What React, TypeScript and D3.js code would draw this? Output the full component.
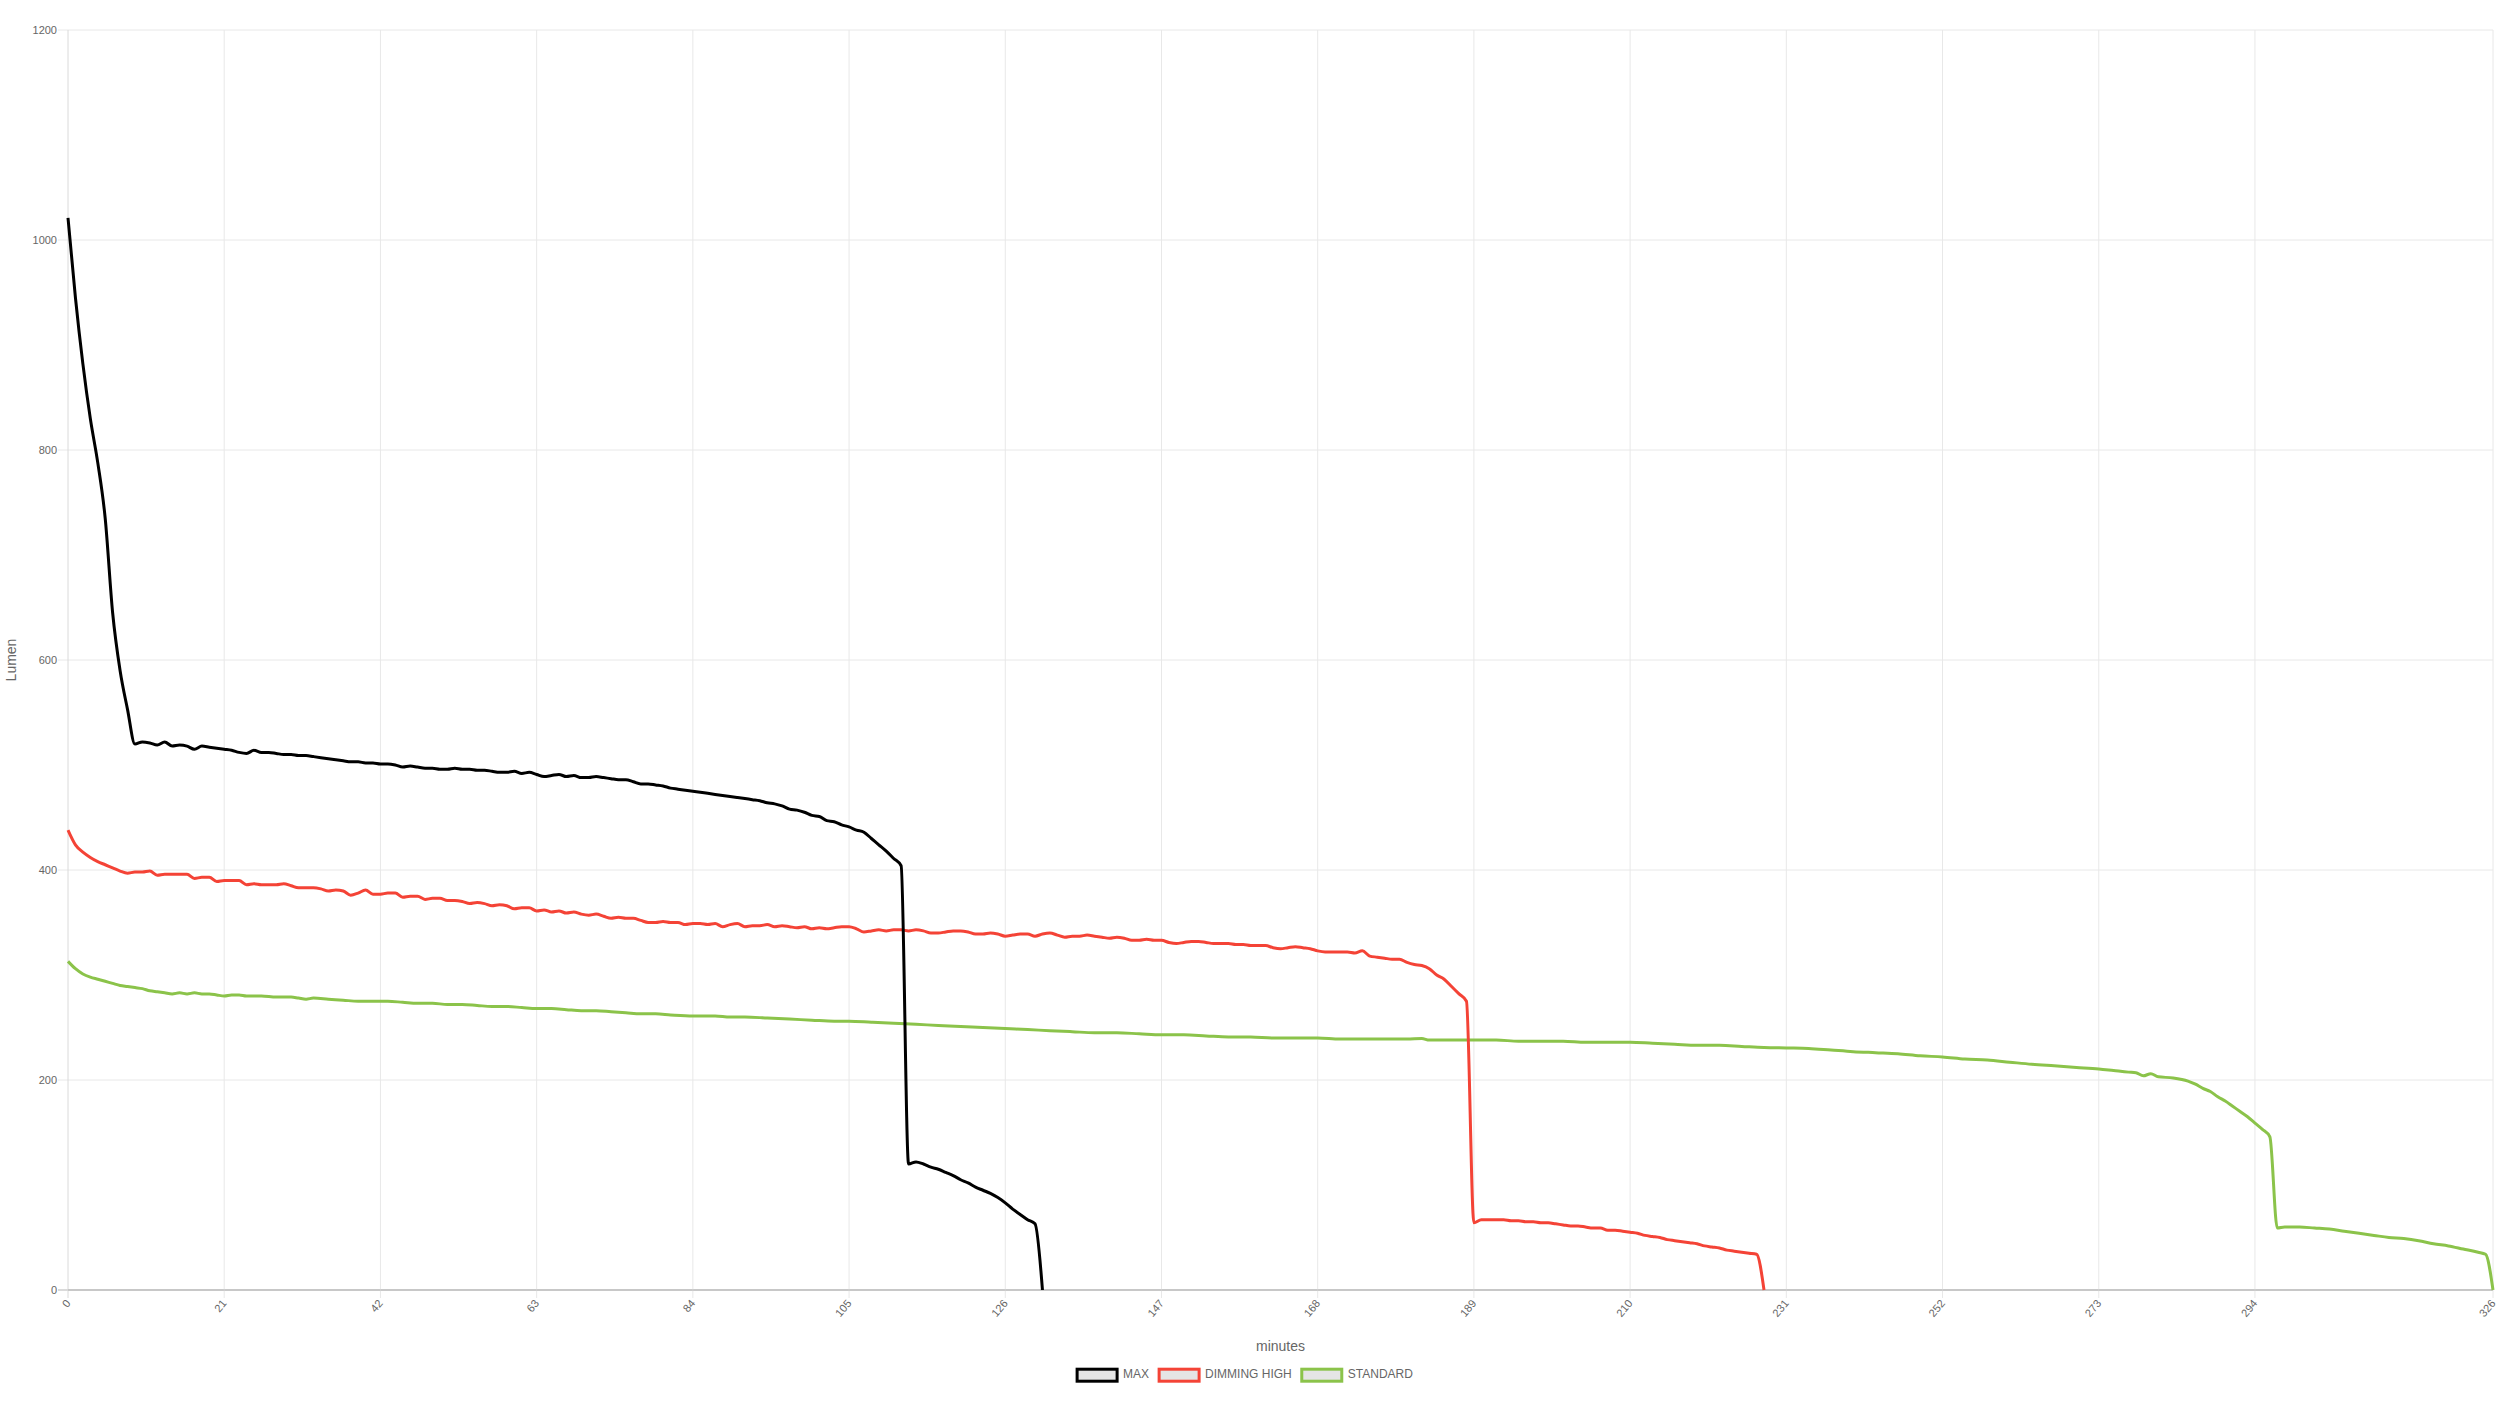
import React, { useMemo } from 'react';
import * as d3 from 'd3';

// ---------- data ----------
const X_TICKS = [0, 21, 42, 63, 84, 105, 126, 147, 168, 189, 210, 231, 252, 273, 294, 326];
const Y_TICKS = [0, 200, 400, 600, 800, 1000, 1200];
const X_TITLE = 'minutes';
const Y_TITLE = 'Lumen';
const SERIES_NAMES = ['MAX', 'DIMMING HIGH', 'STANDARD'];
const SERIES_COLORS = ['#000000', '#f44336', '#8bc34a'];

// [minute, lumen]
const MAX_DATA: [number, number][] = [
  [0, 1021], [1, 945], [2, 882], [3, 830], [4, 788], [5, 735], [6, 645], [7, 590], [8, 553], [9, 520],
  [10, 522], [11, 521], [12, 519], [13, 522], [14, 518], [15, 519], [16, 518], [17, 515], [18, 518], [19, 517],
  [20, 516], [21, 515], [22, 514], [23, 512], [24, 511], [25, 514], [26, 512], [27, 512], [28, 511], [29, 510],
  [30, 510], [31, 509], [32, 509], [33, 508], [34, 507], [35, 506], [36, 505], [37, 504], [38, 503], [39, 503],
  [40, 502], [41, 502], [42, 501], [43, 501], [44, 500], [45, 498], [46, 499], [47, 498], [48, 497], [49, 497],
  [50, 496], [51, 496], [52, 497], [53, 496], [54, 496], [55, 495], [56, 495], [57, 494], [58, 493], [59, 493],
  [60, 494], [61, 492], [62, 493], [63, 491], [64, 489], [65, 490], [66, 491], [67, 489], [68, 490], [69, 488],
  [70, 488], [71, 489], [72, 488], [73, 487], [74, 486], [75, 486], [76, 484], [77, 482], [78, 482], [79, 481],
  [80, 480], [81, 478], [82, 477], [83, 476], [84, 475], [85, 474], [86, 473], [87, 472], [88, 471], [89, 470],
  [90, 469], [91, 468], [92, 467], [93, 466], [94, 464], [95, 463], [96, 461], [97, 458], [98, 457], [99, 455],
  [100, 452], [101, 451], [102, 447], [103, 446], [104, 443], [105, 441], [106, 438], [107, 436], [108, 430], [109, 424],
  [110, 418], [111, 411], [112, 404], [113, 120], [114, 122], [115, 120], [116, 117], [117, 115], [118, 112], [119, 109],
  [120, 105], [121, 102], [122, 98], [123, 95], [124, 92], [125, 88], [126, 83], [127, 77], [128, 72], [129, 67],
  [130, 63], [131, 0],
];

const DIMMING_HIGH_DATA: [number, number][] = [
  [0, 438], [1, 424], [2, 417], [3, 412], [4, 408], [5, 405], [6, 402], [7, 399], [8, 397], [9, 398],
  [10, 398], [11, 399], [12, 395], [13, 396], [14, 396], [15, 396], [16, 396], [17, 392], [18, 393], [19, 393],
  [20, 389], [21, 390], [22, 390], [23, 390], [24, 386], [25, 387], [26, 386], [27, 386], [28, 386], [29, 387],
  [30, 385], [31, 383], [32, 383], [33, 383], [34, 382], [35, 380], [36, 381], [37, 380], [38, 376], [39, 378],
  [40, 381], [41, 377], [42, 377], [43, 378], [44, 378], [45, 374], [46, 375], [47, 375], [48, 372], [49, 373],
  [50, 373], [51, 371], [52, 371], [53, 370], [54, 368], [55, 369], [56, 368], [57, 366], [58, 367], [59, 366],
  [60, 363], [61, 364], [62, 364], [63, 361], [64, 362], [65, 360], [66, 361], [67, 359], [68, 360], [69, 358],
  [70, 357], [71, 358], [72, 356], [73, 354], [74, 355], [75, 354], [76, 354], [77, 352], [78, 350], [79, 350],
  [80, 351], [81, 350], [82, 350], [83, 348], [84, 349], [85, 349], [86, 348], [87, 349], [88, 346], [89, 348],
  [90, 349], [91, 346], [92, 347], [93, 347], [94, 348], [95, 346], [96, 347], [97, 346], [98, 345], [99, 346],
  [100, 344], [101, 345], [102, 344], [103, 345], [104, 346], [105, 346], [106, 344], [107, 341], [108, 342], [109, 343],
  [110, 342], [111, 343], [112, 343], [113, 342], [114, 343], [115, 342], [116, 340], [117, 340], [118, 341], [119, 342],
  [120, 342], [121, 341], [122, 339], [123, 339], [124, 340], [125, 339], [126, 337], [127, 338], [128, 339], [129, 339],
  [130, 337], [131, 339], [132, 340], [133, 338], [134, 336], [135, 337], [136, 337], [137, 338], [138, 337], [139, 336],
  [140, 335], [141, 336], [142, 335], [143, 333], [144, 333], [145, 334], [146, 333], [147, 333], [148, 331], [149, 330],
  [150, 331], [151, 332], [152, 332], [153, 331], [154, 330], [155, 330], [156, 330], [157, 329], [158, 329], [159, 328],
  [160, 328], [161, 328], [162, 326], [163, 325], [164, 326], [165, 327], [166, 326], [167, 325], [168, 323], [169, 322],
  [170, 322], [171, 322], [172, 322], [173, 321], [174, 323], [175, 318], [176, 317], [177, 316], [178, 315], [179, 315],
  [180, 312], [181, 310], [182, 309], [183, 306], [184, 300], [185, 296], [186, 289], [187, 282], [188, 275], [189, 64],
  [190, 67], [191, 67], [192, 67], [193, 67], [194, 66], [195, 66], [196, 65], [197, 65], [198, 64], [199, 64],
  [200, 63], [201, 62], [202, 61], [203, 61], [204, 60], [205, 59], [206, 59], [207, 57], [208, 57], [209, 56],
  [210, 55], [211, 54], [212, 52], [213, 51], [214, 50], [215, 48], [216, 47], [217, 46], [218, 45], [219, 44],
  [220, 42], [221, 41], [222, 40], [223, 38], [224, 37], [225, 36], [226, 35], [227, 34], [228, 0],
];

const STANDARD_DATA: [number, number][] = [
  [0, 313], [1, 306], [2, 301], [3, 298], [4, 296], [5, 294], [6, 292], [7, 290], [8, 289], [9, 288],
  [10, 287], [11, 285], [12, 284], [13, 283], [14, 282], [15, 283], [16, 282], [17, 283], [18, 282], [19, 282],
  [20, 281], [21, 280], [22, 281], [23, 281], [24, 280], [26, 280], [28, 279], [30, 279], [31, 278], [32, 277],
  [33, 278], [35, 277], [37, 276], [39, 275], [41, 275], [43, 275], [45, 274], [47, 273], [49, 273], [51, 272],
  [53, 272], [55, 271], [57, 270], [59, 270], [61, 269], [63, 268], [65, 268], [67, 267], [69, 266], [71, 266],
  [73, 265], [75, 264], [77, 263], [79, 263], [81, 262], [84, 261], [87, 261], [89, 260], [91, 260], [94, 259],
  [97, 258], [100, 257], [103, 256], [105, 256], [108, 255], [111, 254], [114, 253], [117, 252], [120, 251], [123, 250],
  [126, 249], [129, 248], [132, 247], [135, 246], [138, 245], [141, 245], [144, 244], [147, 243], [150, 243], [153, 242],
  [156, 241], [159, 241], [162, 240], [165, 240], [168, 240], [171, 239], [174, 239], [177, 239], [180, 239], [182, 239.5],
  [183, 238], [186, 238], [189, 238], [192, 238], [195, 237], [198, 237], [201, 237], [204, 236], [207, 236], [210, 236],
  [213, 235], [216, 234], [219, 233], [222, 233], [225, 232], [228, 231], [231, 230.5], [234, 230], [237, 228.5], [240, 227],
  [243, 226], [246, 225], [249, 223], [252, 222], [255, 220], [258, 219], [261, 217], [264, 215], [267, 213.5], [270, 212],
  [273, 210.5], [275, 209], [277, 207.5], [278, 207], [279, 204], [280, 206], [281, 203], [283, 202], [285, 199], [286, 196],
  [287, 192], [288, 189], [289, 184], [290, 180], [291, 175], [292, 170], [293, 165], [294, 159], [295, 153], [296, 146],
  [297, 59], [298, 60], [300, 60], [302, 59], [304, 58], [306, 56], [308, 54], [310, 52], [312, 50], [314, 49],
  [316, 47], [318, 44], [320, 42], [322, 39], [324, 36], [325, 34], [326, 0],
];

const SERIES_DATA = [MAX_DATA, DIMMING_HIGH_DATA, STANDARD_DATA];

// ---------- layout ----------
const WIDTH = 2500;
const HEIGHT = 1406;
const PLOT = { left: 68, right: 2493, top: 30, bottom: 1290 };
const FONT = "'Liberation Sans', Arial, Helvetica, sans-serif";
const TEXT_COLOR = '#666666';
const GRID_COLOR = '#e8e8e8';
const TICK_FONT = 11;
const LEGEND_FONT = 12;
const TITLE_FONT = 14;

function measure(text: string, size: number): number {
  const ctx = document.createElement('canvas').getContext('2d');
  if (!ctx) return text.length * size * 0.6;
  ctx.font = `${size}px ${FONT}`;
  return ctx.measureText(text).width;
}

export default function App() {
  const x = d3.scaleLinear().domain([0, d3.max(X_TICKS) as number]).range([PLOT.left, PLOT.right]);
  const y = d3.scaleLinear().domain([0, d3.max(Y_TICKS) as number]).range([PLOT.bottom, PLOT.top]);
  const line = d3
    .line<[number, number]>()
    .x((d) => x(d[0]))
    .y((d) => y(d[1]))
    .curve(d3.curveMonotoneX);

  const legend = useMemo(() => {
    const boxW = 40;
    const pad = 10;
    const items = SERIES_NAMES.map((name) => ({ name, tw: measure(name, LEGEND_FONT) }));
    const total = items.reduce((s, it) => s + boxW + LEGEND_FONT / 2 + it.tw + pad, 0);
    let cx = (WIDTH - total) / 2;
    return items.map((it, i) => {
      const r = { ...it, x: cx, color: SERIES_COLORS[i] };
      cx += boxW + LEGEND_FONT / 2 + it.tw + pad;
      return r;
    });
  }, []);

  const legendY = 1369.2;

  return (
    <svg
      width={WIDTH}
      height={HEIGHT}
      style={{ position: 'absolute', left: 0, top: 0, background: '#ffffff' }}
      fontFamily={FONT}
    >
      {/* horizontal grid + y ticks */}
      {Y_TICKS.map((t) => (
        <g key={`y${t}`}>
          <line
            x1={PLOT.left - 10}
            x2={PLOT.right}
            y1={y(t)}
            y2={y(t)}
            stroke={t === 0 ? '#b5b5b5' : GRID_COLOR}
            strokeWidth={1}
          />
          <text
            x={PLOT.left - 11}
            y={y(t)}
            textAnchor="end"
            dominantBaseline="central"
            fontSize={TICK_FONT}
            fill={TEXT_COLOR}
          >
            {t}
          </text>
        </g>
      ))}
      {/* vertical grid + x ticks */}
      {X_TICKS.map((t, i) => (
        <g key={`x${t}`}>
          <line
            x1={x(t)}
            x2={x(t)}
            y1={PLOT.top}
            y2={PLOT.bottom + 8}
            stroke={i === 0 ? '#dadada' : GRID_COLOR}
            strokeWidth={1}
          />
          <text
            transform={`translate(${x(t)},${PLOT.bottom + 11}) rotate(-50)`}
            textAnchor="end"
            dominantBaseline="central"
            fontSize={TICK_FONT}
            fill={TEXT_COLOR}
          >
            {t}
          </text>
        </g>
      ))}
      {/* redraw zero line on top of vertical grid */}
      <line x1={PLOT.left} x2={PLOT.right} y1={y(0)} y2={y(0)} stroke="#b5b5b5" strokeWidth={1} />

      {/* series, first dataset on top */}
      {SERIES_DATA.map((data, i) => ({ data, i }))
        .reverse()
        .map(({ data, i }) => (
          <path
            key={SERIES_NAMES[i]}
            d={line(data) ?? ''}
            fill="none"
            stroke={SERIES_COLORS[i]}
            strokeWidth={3}
            strokeLinejoin="miter"
          />
        ))}

      {/* axis titles */}
      <text
        x={(PLOT.left + PLOT.right) / 2}
        y={1351}
        textAnchor="middle"
        fontSize={TITLE_FONT}
        fill={TEXT_COLOR}
      >
        {X_TITLE}
      </text>
      <text
        transform={`translate(16,${(PLOT.top + PLOT.bottom) / 2}) rotate(-90)`}
        textAnchor="middle"
        fontSize={TITLE_FONT}
        fill={TEXT_COLOR}
      >
        {Y_TITLE}
      </text>

      {/* legend */}
      {legend.map((it) => (
        <g key={it.name}>
          <rect
            x={it.x}
            y={legendY}
            width={40}
            height={LEGEND_FONT}
            fill="rgba(0,0,0,0.1)"
            stroke={it.color}
            strokeWidth={3}
          />
          <text
            x={it.x + 40 + LEGEND_FONT / 2}
            y={1378}
            fontSize={LEGEND_FONT}
            fill={TEXT_COLOR}
          >
            {it.name}
          </text>
        </g>
      ))}
    </svg>
  );
}
